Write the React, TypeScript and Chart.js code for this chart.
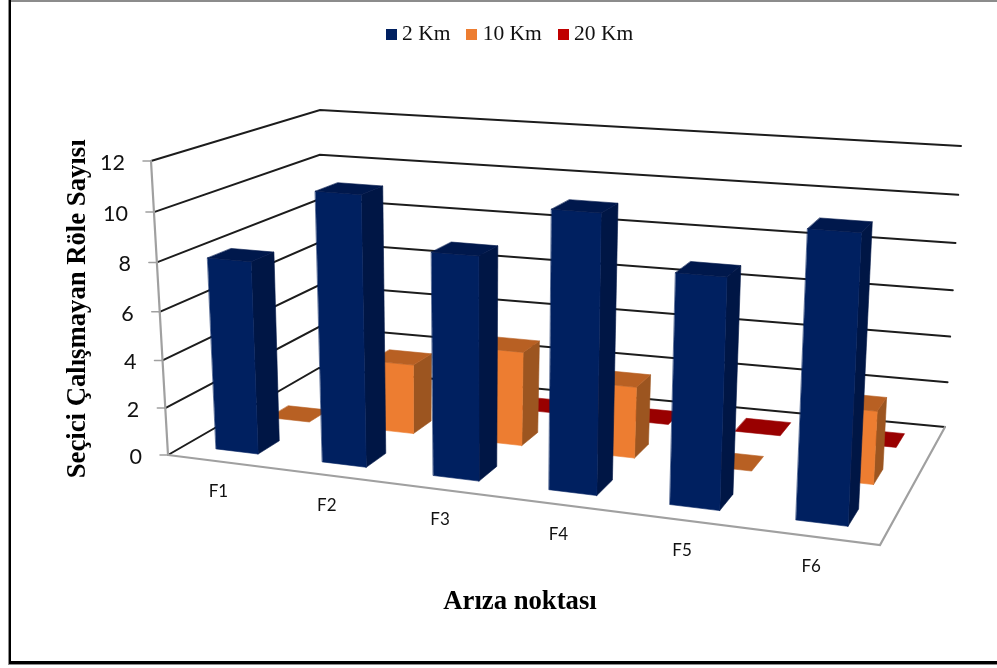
import React, { useEffect, useRef } from "react";
import { Chart, registerables } from "chart.js";

Chart.register(...registerables);

const categories = ["F1", "F2", "F3", "F4", "F5", "F6"];
const km2 = [8, 11, 9, 11, 9, 11];
const km10 = [0, 3, 4, 3, 0, 3];
const km20 = [null, null, 0, 0, 0, 0];

type P = [number, number];

// projective map of the unit square on a quad: p00, p10 (u), p11, p01 (v)
function quadMap(a: P, b: P, c: P, d: P) {
  const dx1 = b[0] - c[0], dx2 = d[0] - c[0], sx = a[0] - b[0] + c[0] - d[0];
  const dy1 = b[1] - c[1], dy2 = d[1] - c[1], sy = a[1] - b[1] + c[1] - d[1];
  const det = dx1 * dy2 - dx2 * dy1;
  const g = (sx * dy2 - dx2 * sy) / det;
  const h = (dx1 * sy - sx * dy1) / det;
  const A = b[0] - a[0] + g * b[0], B = d[0] - a[0] + h * d[0], C = a[0];
  const D = b[1] - a[1] + g * b[1], E = d[1] - a[1] + h * d[1], F = a[1];
  return (u: number, v: number): P => {
    const w = g * u + h * v + 1;
    return [(A * u + B * v + C) / w, (D * u + E * v + F) / w];
  };
}

const floorMap = quadMap([168, 455], [880, 545], [945, 427], [319, 368]);
const roofMap = quadMap([151, 161], [896, 216], [961, 146], [320, 110]);
const spread = 0.072;
const heightBow = 0.052;

function project(uRaw: number, v: number, hRaw: number): P {
  const u = uRaw + spread * uRaw * (1 - uRaw);
  const h = hRaw - heightBow * hRaw * (1 - hRaw);
  const f = floorMap(u, v);
  const t = roofMap(u, v);
  return [f[0] + (t[0] - f[0]) * h, f[1] + (t[1] - f[1]) * h];
}

function poly(ctx: CanvasRenderingContext2D, pts: P[], fill: string) {
  ctx.beginPath();
  pts.forEach((p, i) => (i ? ctx.lineTo(p[0], p[1]) : ctx.moveTo(p[0], p[1])));
  ctx.closePath();
  ctx.fillStyle = fill;
  ctx.strokeStyle = fill;
  ctx.lineWidth = 0.6;
  ctx.fill();
  ctx.stroke();
}

function line(ctx: CanvasRenderingContext2D, pts: P[], color: string, width: number) {
  ctx.beginPath();
  pts.forEach((p, i) => (i ? ctx.lineTo(p[0], p[1]) : ctx.moveTo(p[0], p[1])));
  ctx.strokeStyle = color;
  ctx.lineWidth = width;
  ctx.stroke();
}

const shades = [
  { front: "#002060", side: "#001645", top: "#00184c" },
  { front: "#ED7D31", side: "#9C5520", top: "#B86023" },
  { front: "#C00000", side: "#800000", top: "#990000" },
];

const scene3d = {
  id: "scene3d",
  afterLayout(chart: any) {
    const dx = 36;
    chart.legend.left += dx;
    chart.legend.right += dx;
  },
  beforeDatasetsDraw(chart: any) {
    const ctx: CanvasRenderingContext2D = chart.ctx;
    const yS = chart.scales.y;
    const xS = chart.scales.x;
    const frac = (v: number) => (yS.bottom - yS.getPixelForValue(v)) / (yS.bottom - yS.top);
    ctx.save();
    ctx.lineCap = "round";

    // walls: gridlines from the value scale
    yS.ticks.forEach((t: any) => {
      const h = frac(t.value);
      line(ctx, [project(0, 0, h), project(0, 1, h), project(1, 1, h)], "#1c1c1c", 2);
    });
    // floor front and right edges, value axis
    line(ctx, [project(0, 0, 0), project(1, 0, 0), project(1, 1, 0)], "#A0A0A0", 2.2);
    line(ctx, [project(0, 0, 0), project(0, 0, 1)], "#A0A0A0", 2.2);

    // value labels
    ctx.textAlign = "right";
    ctx.textBaseline = "middle";
    ctx.font = "21.5px Lato";
    yS.ticks.forEach((t: any) => {
      const p = project(0, 0, frac(t.value));
      line(ctx, [[p[0] - 8, p[1]], p], "#A0A0A0", 1.5);
      ctx.fillStyle = "#111";
      ctx.fillText(String(t.value), p[0] - 26, p[1] + 2);
    });

    // category labels
    ctx.textAlign = "center";
    ctx.font = "17px Lato";
    xS.getLabels().forEach((label: string, i: number) => {
      const p = project((i + 0.5) / categories.length, 0, 0);
      ctx.fillStyle = "#111";
      ctx.fillText(label, p[0] - 2, p[1] + 30);
    });

    // columns: back series first, left to right
    const n = categories.length;
    const m = chart.data.datasets.length;
    const widthShare = 0.4;
    for (let s = m - 1; s >= 0; s--) {
      const c = shades[s];
      chart.data.datasets[s].data.forEach((value: number | null, i: number) => {
        if (value === null) return;
        const du = (1 / n) * widthShare, dv = (1 / m) * widthShare;
        const u0 = (i + 0.5) / n - du / 2, u1 = u0 + du;
        const v0 = (s + 0.5) / m - dv / 2, v1 = v0 + dv;
        const h = frac(value);
        const fl = project(u0, v0, 0), fr = project(u1, v0, 0), br = project(u1, v1, 0);
        const tfl = project(u0, v0, h), tfr = project(u1, v0, h), tbr = project(u1, v1, h), tbl = project(u0, v1, h);
        if (value > 0) {
          poly(ctx, [fr, br, tbr, tfr], c.side);
          poly(ctx, [fl, fr, tfr, tfl], c.front);
        }
        poly(ctx, [tfl, tfr, tbr, tbl], c.top);
      });
    }
    ctx.restore();
    return false;
  },
  afterDraw(chart: any) {
    const ctx: CanvasRenderingContext2D = chart.ctx;
    ctx.save();
    ctx.fillStyle = "#8c8c8c";
    ctx.fillRect(8, 0, 989, 2);
    ctx.fillRect(8, 0, 1, 665);
    ctx.fillRect(8, 664, 989, 1);
    ctx.fillStyle = "#000";
    ctx.fillRect(9, 0, 2, 664);
    ctx.fillRect(9, 661, 988, 3);
    ctx.restore();
  },
};

function swatch(color: string) {
  const c = document.createElement("canvas");
  c.width = 11;
  c.height = 11;
  const g = c.getContext("2d")!;
  g.fillStyle = color;
  g.fillRect(0, 0, 11, 11);
  return c;
}

export default function App() {
  const ref = useRef<HTMLCanvasElement>(null);
  useEffect(() => {
    const chart = new Chart(ref.current!, {
      type: "bar",
      data: {
        labels: categories,
        datasets: [
          { label: "2 Km", data: km2, backgroundColor: "#002060" },
          { label: "10 Km", data: km10, backgroundColor: "#ED7D31" },
          { label: "20 Km", data: km20, backgroundColor: "#C00000" },
        ],
      },
      plugins: [scene3d],
      options: {
        animation: false,
        responsive: false,
        layout: { padding: { left: 62, right: 107, top: 3, bottom: 50 } },
        plugins: {
          tooltip: { enabled: false },
          title: { display: true, text: " ", weight: 500, font: { size: 1 }, padding: { top: 0, bottom: 106 } },
          legend: {
            position: "top",
            labels: {
              usePointStyle: true,
              pointStyleWidth: 0.5,
              padding: 21,
              color: "#111",
              font: { family: "'Liberation Serif'", size: 21.5 },
              generateLabels: (chart: any) =>
                chart.data.datasets.map((d: any, i: number) => ({
                  text: d.label,
                  datasetIndex: i,
                  pointStyle: swatch(d.backgroundColor),
                  fillStyle: d.backgroundColor,
                  strokeStyle: d.backgroundColor,
                  lineWidth: 0,
                  fontColor: "#111",
                })),
            },
          },
        },
        scales: {
          x: {
            grid: { display: false },
            border: { display: false },
            ticks: { display: false },
            afterFit: (s: any) => { s.height = 163; },
            title: { display: true, text: "Arıza noktası", color: "#000", font: { family: "'Liberation Serif'", weight: "bold", size: 26.7 }, padding: 0 },
          },
          y: {
            min: 0,
            max: 12,
            grid: { display: false },
            border: { display: false },
            ticks: { display: false, stepSize: 2 },
            afterFit: (s: any) => { s.width = 88; },
            title: { display: true, text: "Seçici Çalışmayan Röle Sayısı", color: "#000", font: { family: "'Liberation Serif'", weight: "bold", size: 26.7 }, padding: 0 },
          },
        },
      } as any,
    });
    return () => chart.destroy();
  }, []);
  return (
    <div style={{ position: "absolute", left: 0, top: 0, width: 997, height: 668, background: "#fff" }}>
      <canvas ref={ref} width={997} height={668} style={{ display: "block" }} />
    </div>
  );
}
